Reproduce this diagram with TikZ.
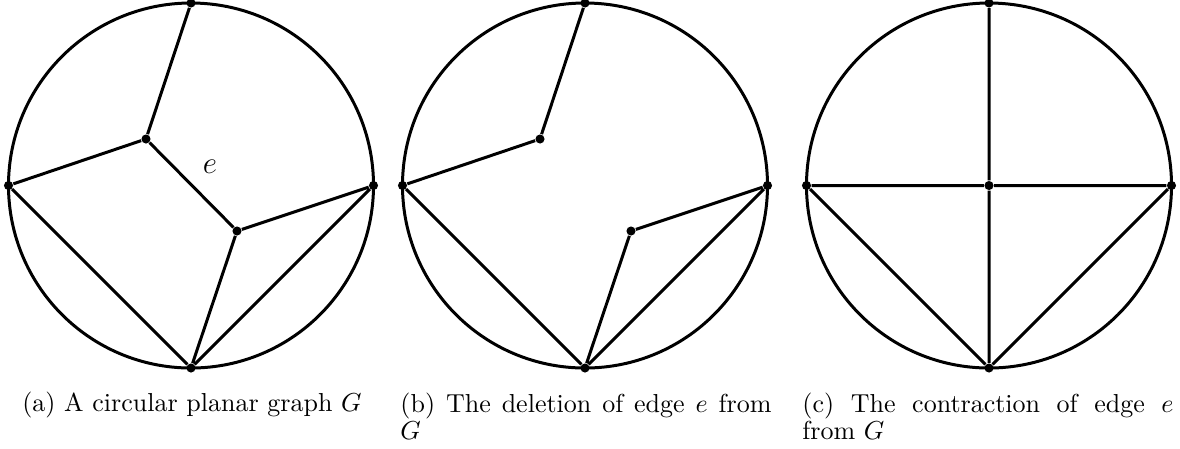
\documentclass[tikz,border=0pt]{standalone}
\usetikzlibrary{calc}
\begin{document}
\begin{tikzpicture}[x=0.3846pt,y=-0.3846pt,
  edge/.style={line width=1.15pt},
  rim/.style={line width=1.15pt},
  vtx/.style={circle,fill=black,inner sep=0pt,minimum size=3.5pt},
  captext/.style={inner sep=0pt,font=\fontsize{10}{10.6}\selectfont},
  capwide/.style={captext,text width=142.7pt,align=justify,anchor=north}]
\useasboundingbox (0,0) rectangle (1180,448);
% ---------- (a)
\coordinate (ca) at (191,185.5);
\draw[rim] (ca) circle[radius=182.5*0.3846pt];
\node[vtx] (at) at (191,3) {};
\node[vtx] (al) at (8.5,185.5) {};
\node[vtx] (ar) at (373.5,185.5) {};
\node[vtx] (ab) at (191,368) {};
\node[vtx] (au) at (146,139) {};
\node[vtx] (av) at (237,231) {};
\draw[edge] (at) -- (au) (au) -- (al) (au) -- (av) (av) -- (ar) (av) -- (ab) (al) -- (ab) (ar) -- (ab);
\node[font=\large] (elab) at (210,167) {$e$};
% ---------- (b)
\coordinate (cb) at (585,185.5);
\draw[rim] (cb) circle[radius=182.5*0.3846pt];
\node[vtx] (bt) at (585,3) {};
\node[vtx] (bl) at (402.5,185.5) {};
\node[vtx] (br) at (767.5,185.5) {};
\node[vtx] (bb) at (585,368) {};
\node[vtx] (bu) at (540,139) {};
\node[vtx] (bv) at (631,231) {};
\draw[edge] (bt) -- (bu) (bu) -- (bl) (bv) -- (br) (bv) -- (bb) (bl) -- (bb) (br) -- (bb);
% ---------- (c)
\coordinate (cc) at (989,185.5);
\draw[rim] (cc) circle[radius=182.5*0.3846pt];
\node[vtx] (ct) at (989,3) {};
\node[vtx] (cl) at (806.5,185.5) {};
\node[vtx] (cr) at (1171.5,185.5) {};
\node[vtx] (cbm) at (989,368) {};
\node[vtx] (cm) at (989,185.5) {};
\draw[edge] (ct) -- (cm) (cm) -- (cbm) (cl) -- (cm) (cm) -- (cr) (cl) -- (cbm) (cr) -- (cbm);
% ---------- captions
\node[captext,anchor=base] (capa) at (192,411) {(a) A circular planar graph $G$};
\node[capwide] (capb) at (586,392) {(b) The deletion of edge $e$ from $G$};
\node[capwide] (capc) at (988,392) {(c) The contraction of edge $e$ from $G$};
\end{tikzpicture}
\end{document}
